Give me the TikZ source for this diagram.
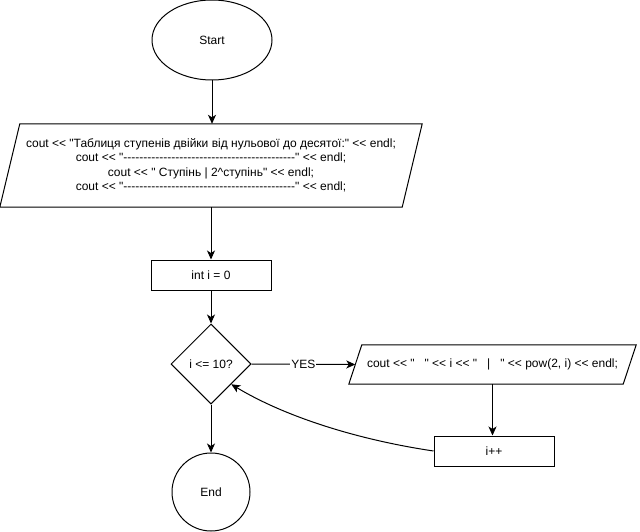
\documentclass[tikz,border=0pt]{standalone}
\usepackage{fontspec}
\setmainfont{Liberation Sans}[Ligatures=TeXOff]
\usetikzlibrary{shapes.geometric,arrows.meta,calc}

\begin{document}
\begin{tikzpicture}[x=1pt,y=-1pt,
  every node/.style={font=\fontsize{12}{14.4}\selectfont, inner sep=0pt, align=center},
  line/.style={draw=black, line width=1pt},
  arrow/.style={line, -{Stealth[length=9pt,width=8pt,inset=2.5pt]}},
  terminal/.style={line, ellipse, minimum width=120pt, minimum height=80pt},
  endcircle/.style={line, circle, minimum size=78pt},
  process/.style={line, rectangle, minimum width=120pt, minimum height=30pt},
  decision/.style={line, diamond, minimum width=80pt, minimum height=80pt},
  iobox/.style={rectangle, draw=none}
]
% canvas
\fill[white] (0,0) rectangle (640,532);
\useasboundingbox (0,0) rectangle (640,532);

% nodes
\node[terminal] (start) at (212,40) {Start};

\node[iobox, minimum width=422pt, minimum height=83pt] (out1) at (211,165.5)
  {cout << "Таблиця ступенів двійки від нульової до десятої:" << endl;\\
   cout << "-------------------------------------------" << endl;\\
   cout << " Ступінь | 2\textasciicircum ступінь" << endl;\\
   cout << "-------------------------------------------" << endl;};
\draw[line] ($(out1.north west)+(20,0)$) -- (out1.north east)
  -- ($(out1.south east)-(20,0)$) -- (out1.south west) -- cycle;

\node[process] (init) at (211,275) {int i = 0};

\node[decision] (dec) at (211,364) {i <= 10?};

\node[iobox, minimum width=287pt, minimum height=39pt] (out2) at (492.5,364.5)
  {cout << "\ \ \ " << i << "\ \ \ |\ \ \ " << pow(2, i) << endl;};
\draw[line] ($(out2.north west)+(13,0)$) -- (out2.north east)
  -- ($(out2.south east)-(13,0)$) -- (out2.south west) -- cycle;
\coordinate (out2in) at ($(out2.west)+(6.5,0)$);

\node[process] (inc) at (494,451) {i++};

\node[endcircle] (fin) at (211,492) {End};

% connectors
\draw[arrow] (start.south) -- (start.south |- out1.north);
\draw[arrow] (out1.south) -- (init.north);
\draw[arrow] (init.south) -- (dec.north);
\draw[arrow] (dec.east) -- node[fill=white, inner sep=1pt] {YES} (out2in);
\draw[arrow] (out2.south) -- (out2.south |- inc.north);
\draw[arrow] (inc.west) .. controls (353,439) and (282,415) .. (dec.south east);
\draw[arrow] (dec.south) -- (fin.north);
\end{tikzpicture}
\end{document}
